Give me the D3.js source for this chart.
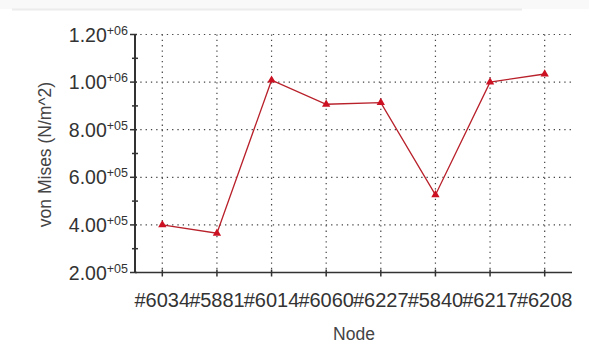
<!DOCTYPE html>
<html>
<head>
<meta charset="utf-8">
<script src="https://cdn.jsdelivr.net/npm/d3@7"></script>
<style>
  body { margin: 0; background: #fff; }
  text { font-family: "Liberation Sans", Arial, sans-serif; }
</style>
</head>
<body>
<div id="chart"></div>
<script>
// data
var nodes = ["#6034", "#5881", "#6014", "#6060", "#6227", "#5840", "#6217", "#6208"];
var stress = [4.00e5, 3.65e5, 1.008e6, 9.07e5, 9.14e5, 5.26e5, 1.00e6, 1.034e6];
var yTicks = [2e5, 4e5, 6e5, 8e5, 1e6, 1.2e6];
var yMinor = [3e5, 5e5, 7e5, 9e5, 1.1e6];

var W = 589, H = 344;
var margin = {top: 34.5, right: 17, bottom: 71.5, left: 135},
    width = W - margin.left - margin.right,
    height = H - margin.top - margin.bottom;

var root = d3.select("#chart").append("svg")
    .attr("width", W).attr("height", H);

// faint strip at the very top
root.append("rect").attr("x", 0).attr("y", 0).attr("width", W).attr("height", 9)
    .attr("fill", "#f9f9f9");
root.append("line").attr("x1", 12).attr("x2", 522).attr("y1", 9.5).attr("y2", 9.5)
    .attr("stroke", "#ececec").attr("stroke-width", 2);

var svg = root.append("g")
    .attr("transform", "translate(" + margin.left + "," + margin.top + ")");

var x = d3.scaleLinear().domain([-0.5, nodes.length - 0.5]).range([0, width]);
var y = d3.scaleLinear().domain([2e5, 1.2e6]).range([height, 0]);

// dotted grid
svg.append("g").selectAll("line.h")
  .data(yTicks.slice(1))
  .enter().append("line")
    .attr("x1", 0).attr("x2", width)
    .attr("y1", d => y(d)).attr("y2", d => y(d))
    .attr("stroke", "#444").attr("stroke-width", 1.2)
    .attr("stroke-dasharray", "1.3,4");

svg.append("g").selectAll("line.v")
  .data(nodes)
  .enter().append("line")
    .attr("x1", (d, i) => x(i)).attr("x2", (d, i) => x(i))
    .attr("y1", 0).attr("y2", height)
    .attr("stroke", "#444").attr("stroke-width", 1.2)
    .attr("stroke-dasharray", "1.3,4");

// y axis
var yAxis = svg.append("g").attr("class", "yaxis");
yAxis.append("line").attr("x1", 0).attr("x2", 0).attr("y1", 0).attr("y2", height)
    .attr("stroke", "#333").attr("stroke-width", 2);
yAxis.selectAll("line.major").data(yTicks).enter().append("line")
    .attr("x1", -5).attr("x2", 2).attr("y1", d => y(d)).attr("y2", d => y(d))
    .attr("stroke", "#333").attr("stroke-width", 1.5);
yAxis.selectAll("line.minor").data(yMinor).enter().append("line")
    .attr("x1", -3).attr("x2", 3).attr("y1", d => y(d)).attr("y2", d => y(d))
    .attr("stroke", "#333").attr("stroke-width", 1.5);

var lab = yAxis.selectAll("text.tl").data(yTicks).enter().append("text")
    .attr("x", -7).attr("y", d => y(d) + 7)
    .attr("text-anchor", "end")
    .attr("fill", "#333");
lab.append("tspan").attr("font-size", 19.5).text(d => (d / Math.pow(10, Math.floor(Math.log10(d)))).toFixed(2));
lab.append("tspan").attr("font-size", 12.5).attr("dy", -7)
    .text(d => "+" + String(Math.floor(Math.log10(d))).padStart(2, "0"));

// x axis
var xAxis = svg.append("g").attr("transform", "translate(0," + height + ")");
xAxis.append("line").attr("x1", 0).attr("x2", width).attr("stroke", "#333").attr("stroke-width", 1.5);
xAxis.selectAll("line.t").data(nodes).enter().append("line")
    .attr("x1", (d, i) => x(i)).attr("x2", (d, i) => x(i))
    .attr("y1", -3).attr("y2", 4)
    .attr("stroke", "#333").attr("stroke-width", 1.5);
xAxis.selectAll("text").data(nodes).enter().append("text")
    .attr("x", (d, i) => x(i)).attr("y", 34)
    .attr("text-anchor", "middle")
    .attr("font-size", 20).attr("fill", "#333")
    .text(d => d);

// axis titles
root.append("text")
    .attr("x", 354).attr("y", 340)
    .attr("text-anchor", "middle").attr("font-size", 17.5).attr("fill", "#444")
    .text("Node");
root.append("text")
    .attr("transform", "translate(51," + 154.5 + ") rotate(-90)")
    .attr("text-anchor", "middle").attr("font-size", 17.5).attr("fill", "#444")
    .text("von Mises (N/m^2)");

// line and markers
var line = d3.line().x((d, i) => x(i)).y(d => y(d));
svg.append("path").datum(stress)
    .attr("d", line)
    .attr("fill", "none").attr("stroke", "#b8202a").attr("stroke-width", 1.3);

var tri = d3.symbol().type(d3.symbolTriangle).size(30);
svg.selectAll("path.m").data(stress).enter().append("path")
    .attr("transform", (d, i) => "translate(" + x(i) + "," + y(d) + ")")
    .attr("d", tri)
    .attr("fill", "#cc1122");
</script>
</body>
</html>
